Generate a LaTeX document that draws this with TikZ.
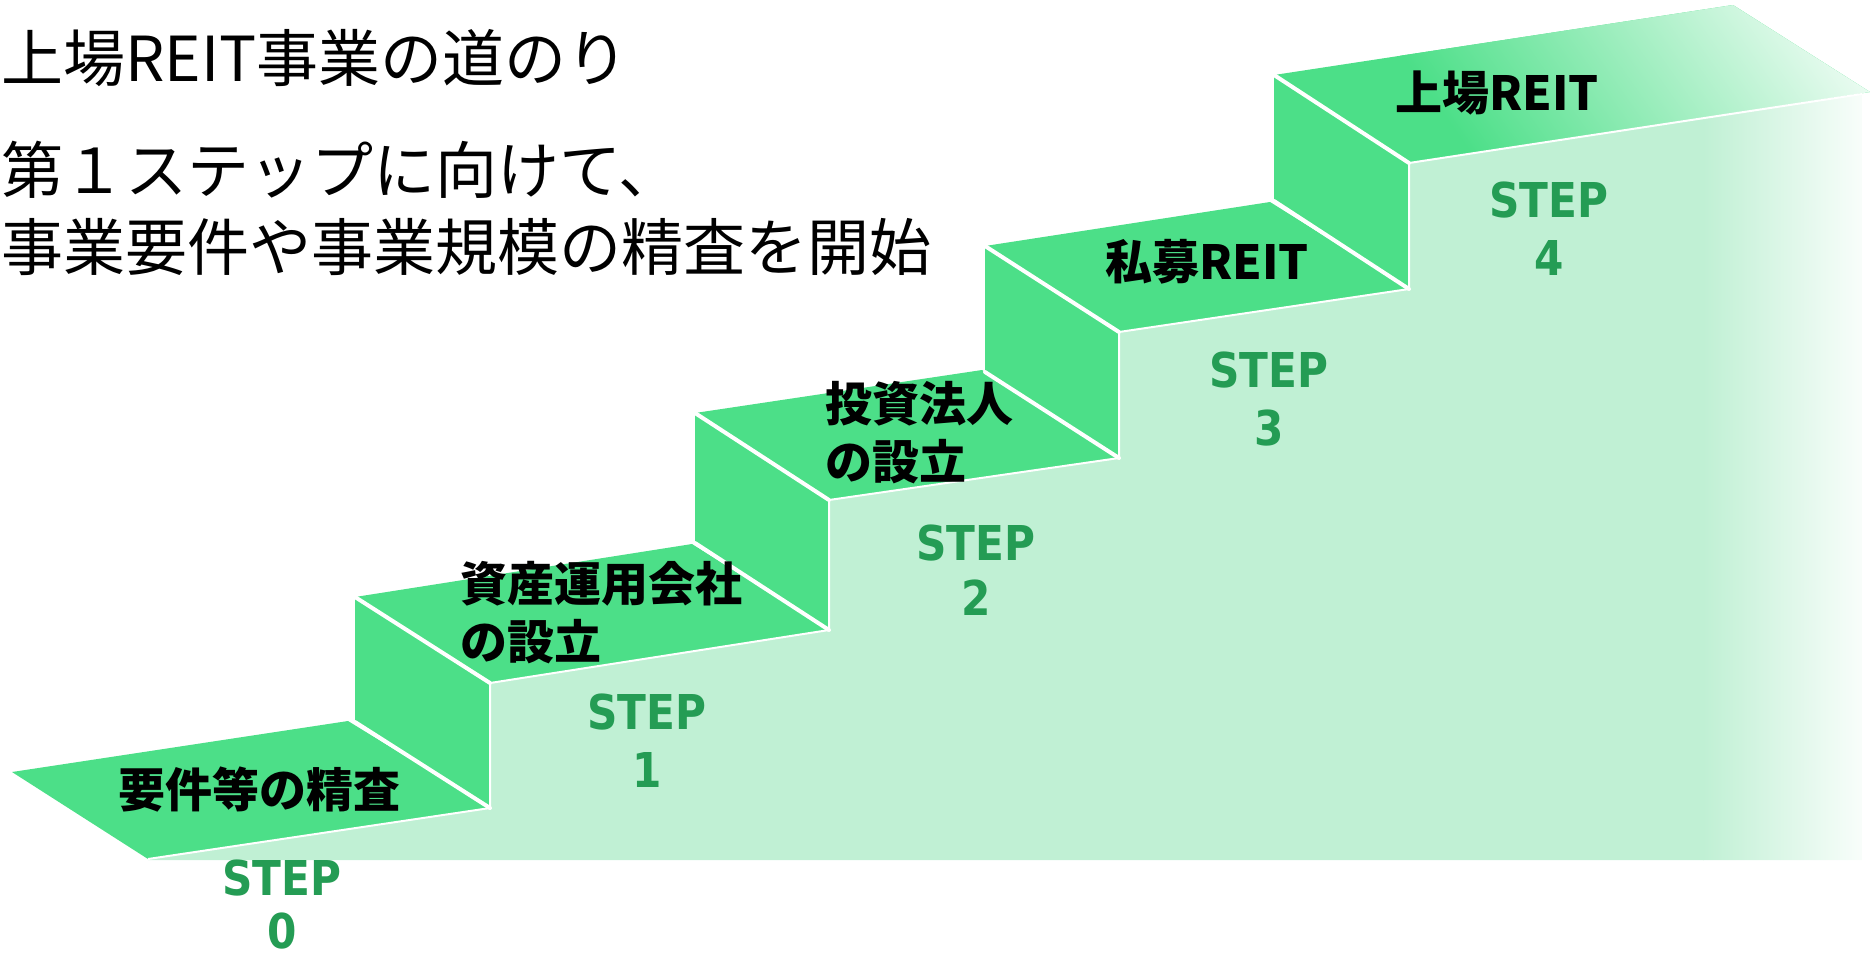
\documentclass[tikz,border=0pt]{standalone}
\usepackage{fontspec}
\newfontfamily\jpfont{Noto Sans CJK JP}
\newfontfamily\stepfont{DejaVu Sans}[FakeStretch=0.88]
\definecolor{topg}{RGB}{76,223,136}
\definecolor{frontg}{RGB}{192,240,212}
\definecolor{stepg}{RGB}{36,156,84}
\tikzset{
  titletext/.style={anchor=west,inner sep=0pt,font=\jpfont\fontsize{31pt}{36pt}\selectfont},
  stagetext/.style={inner sep=0pt,font=\jpfont\bfseries\fontsize{23.5pt}{28pt}\selectfont},
  steptext/.style={inner sep=0pt,text=stepg,font=\stepfont\bfseries\fontsize{24pt}{28pt}\selectfont},
  face/.style={fill=topg},
  thickedge/.style={draw=white,line width=2pt,line cap=round},
  thinedge/.style={draw=white,line width=1pt,line join=round},
}
\begin{document}
\begin{tikzpicture}[x=0.5pt,y=-0.5pt]
\useasboundingbox (0,0) rectangle (1871,958);
% corners
\coordinate (L0) at (12,772);   \coordinate (B0) at (348,721);  \coordinate (F0) at (490,808);  \coordinate (FL0) at (148,859);
\coordinate (L1) at (355,597);  \coordinate (B1) at (692,544);  \coordinate (F1) at (829,630);  \coordinate (FL1) at (490,683);
\coordinate (L2) at (695,413);  \coordinate (B2) at (982,370);  \coordinate (F2) at (1119,458); \coordinate (FL2) at (829,500);
\coordinate (L3) at (985,246);  \coordinate (B3) at (1270,202); \coordinate (F3) at (1409,289); \coordinate (FL3) at (1119,332);
\coordinate (L4) at (1274,75);  \coordinate (B4) at (1733,5);   \coordinate (F4) at (1870,92);  \coordinate (FL4) at (1409,163);
\coordinate (R1) at (355,722);  \coordinate (R2) at (695,543);  \coordinate (R3) at (985,372);  \coordinate (R4) at (1274,201);
\coordinate (E) at (1862,94);   \coordinate (EB) at (1862,860); \coordinate (FB) at (148,860);
% front face
\begin{scope}
\clip (FL0) -- (F0) -- (FL1) -- (F1) -- (FL2) -- (F2) -- (FL3) -- (F3) -- (FL4) -- (E) -- (EB) -- (FB) -- cycle;
\fill[frontg] (0,0) rectangle (1704,960);
\shade[left color=frontg,right color=frontg!10!white] (1703,0) rectangle (1863,960);
\end{scope}
% top faces
\path[face] (L0) -- (B0) -- (F0) -- (FL0) -- cycle;
\path[face] (L1) -- (B1) -- (F1) -- (FL1) -- cycle;
\path[face] (L2) -- (B2) -- (F2) -- (FL2) -- cycle;
\path[face] (L3) -- (B3) -- (F3) -- (FL3) -- cycle;
\begin{scope}
\clip (L4) -- (B4) -- (F4) -- (FL4) -- cycle;
\fill[topg] (1260,0) rectangle (1880,170);
\shade[left color=topg,right color=topg!2!white,shading angle=125] (1400,-100) rectangle (1880,190);
\end{scope}
% risers
\path[face] (L1) -- (FL1) -- (F0) -- (R1) -- cycle;
\path[face] (L2) -- (FL2) -- (F1) -- (R2) -- cycle;
\path[face] (L3) -- (FL3) -- (F2) -- (R3) -- cycle;
\path[face] (L4) -- (FL4) -- (F3) -- (R4) -- cycle;
% white edges
\draw[thinedge] (FL0) -- (F0) -- (FL1) -- (F1) -- (FL2) -- (F2) -- (FL3) -- (F3) -- (FL4) -- (E);
\foreach \n/\m in {1/0,2/1,3/2,4/3}{
  \draw[thickedge] (L\n) -- (FL\n);
  \draw[thickedge] (R\n) -- (F\m);
}
% title texts
\node[titletext] (t1) at (1,58) {上場REIT事業の道のり};
\node[titletext] (t2) at (1,170) {第１ステップに向けて、};
\node[titletext] (t3) at (1,247) {事業要件や事業規模の精査を開始};
% stage labels
\node[stagetext] (s0) at (259,790) {要件等の精査};
\node[stagetext,anchor=west] (s1a) at (460,584) {資産運用会社};
\node[stagetext,anchor=west] (s1b) at (460,642) {の設立};
\node[stagetext,anchor=west] (s2a) at (825,404) {投資法人};
\node[stagetext,anchor=west] (s2b) at (825,462) {の設立};
\node[stagetext] (s3) at (1207,262) {私募REIT};
\node[stagetext] (s4) at (1497,93) {上場REIT};
% step labels
\node[steptext] (p0) at (282,878) {STEP};
\node[steptext] (n0) at (282,931) {0};
\node[steptext] (p1) at (647,712) {STEP};
\node[steptext] (n1) at (647,770) {1};
\node[steptext] (p2) at (976,543) {STEP};
\node[steptext] (n2) at (976,598) {2};
\node[steptext] (p3) at (1269,370) {STEP};
\node[steptext] (n3) at (1269,428) {3};
\node[steptext] (p4) at (1549,200) {STEP};
\node[steptext] (n4) at (1549,258) {4};
\end{tikzpicture}
\end{document}
